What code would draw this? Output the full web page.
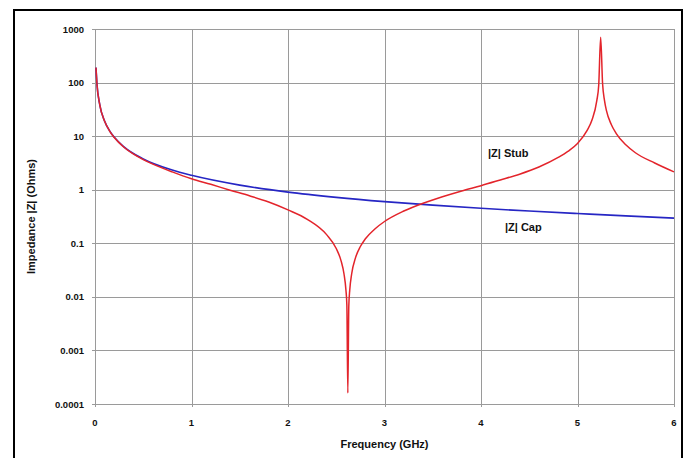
<!DOCTYPE html>
<html>
<head>
<meta charset="utf-8">
<script src="https://cdn.jsdelivr.net/npm/d3@7"></script>
<style>
  body { margin: 0; background: #fff; }
  text { font-family: "Liberation Sans", Arial, sans-serif; font-weight: bold; fill: #111; }
</style>
</head>
<body>
<div id="chart"></div>
<script>
const WIDTH = 688;
const HEIGHT = 458;
const MARGIN = { top: 29, right: 14, bottom: 54, left: 95 };
const RED = "#e3242b";
const BLUE = "#2626c4";
const GRID = "#9a9a9a";

// --------------- Data ---------------
const stubFreq = [0.01, 0.02, 0.05, 0.1, 0.15, 0.2, 0.3, 0.4, 0.5, 0.6, 0.8, 1.0,
  1.2, 1.4, 1.6, 1.8, 2.0, 2.2, 2.4, 2.5, 2.55, 2.58, 2.6, 2.61, 2.62, 2.63, 2.64,
  2.66, 2.7, 2.75, 2.8, 2.9, 3.0, 3.2, 3.4, 3.6, 3.8, 4.0, 4.2, 4.4, 4.6, 4.8, 4.9,
  5.0, 5.1, 5.15, 5.2, 5.22, 5.24, 5.26, 5.28, 5.3, 5.35, 5.4, 5.5, 5.6, 5.8, 6.0];
const stubZ = [190, 95, 38, 19, 12.6, 9.4, 6.2, 4.6, 3.65, 3.0, 2.15, 1.6,
  1.26, 0.98, 0.77, 0.59, 0.42, 0.28, 0.145, 0.08, 0.047, 0.027, 0.0136, 0.007, 0.00016, 0.0067, 0.0135,
  0.027, 0.054, 0.087, 0.12, 0.185, 0.255, 0.4, 0.56, 0.74, 0.95, 1.19, 1.52, 1.95, 2.65, 4.0, 5.2,
  7.3, 12.8, 20, 46, 90, 700, 95, 46, 30, 16.5, 11.3, 6.9, 4.9, 3.15, 2.15];

const capFreq = [0.01, 0.02, 0.05, 0.1, 0.15, 0.2, 0.3, 0.5, 0.8, 1.0, 1.5, 2.0,
  2.5, 3.0, 3.5, 4.0, 4.5, 5.0, 5.5, 6.0];
const capZ = [190, 95, 38, 19, 12.7, 9.5, 6.3, 3.75, 2.33, 1.86, 1.22, 0.9,
  0.72, 0.6, 0.515, 0.45, 0.4, 0.36, 0.325, 0.295];

const xTicks = [0, 1, 2, 3, 4, 5, 6];
const yTicks = [0.0001, 0.001, 0.01, 0.1, 1, 10, 100, 1000];
const yTickLabels = ["0.0001", "0.001", "0.01", "0.1", "1", "10", "100", "1000"];

// --------------- Setup ---------------
const svg = d3
  .select("#chart")
  .append("svg")
  .attr("width", WIDTH)
  .attr("height", HEIGHT);

// outer frame (bottom edge runs off the picture)
svg
  .append("rect")
  .attr("x", 14)
  .attr("y", 10)
  .attr("width", 668)
  .attr("height", 470)
  .attr("fill", "none")
  .attr("stroke", "#000")
  .attr("stroke-width", 2);

const x = d3
  .scaleLinear()
  .domain([0, 6])
  .range([MARGIN.left, WIDTH - MARGIN.right]);

const y = d3
  .scaleLog()
  .domain([0.0001, 1000])
  .range([HEIGHT - MARGIN.bottom, MARGIN.top]);

// --------------- Grid ---------------
const grid = svg.append("g").attr("stroke", GRID).attr("stroke-width", 1);

grid
  .selectAll("line.h")
  .data(yTicks)
  .enter()
  .append("line")
  .attr("x1", x(0) - 3)
  .attr("x2", x(6))
  .attr("y1", d => Math.round(y(d)) + 0.5)
  .attr("y2", d => Math.round(y(d)) + 0.5);

grid
  .selectAll("line.v")
  .data(xTicks)
  .enter()
  .append("line")
  .attr("x1", d => Math.round(x(d)) + 0.5)
  .attr("x2", d => Math.round(x(d)) + 0.5)
  .attr("y1", y(1000))
  .attr("y2", y(0.0001) + 3);

// --------------- Tick labels ---------------
svg
  .append("g")
  .selectAll("text")
  .data(yTicks)
  .enter()
  .append("text")
  .attr("x", x(0) - 11)
  .attr("y", d => y(d) + 3.5)
  .attr("text-anchor", "end")
  .attr("font-size", 9.5)
  .text((d, i) => yTickLabels[i]);

svg
  .append("g")
  .selectAll("text")
  .data(xTicks)
  .enter()
  .append("text")
  .attr("x", d => x(d))
  .attr("y", y(0.0001) + 22)
  .attr("text-anchor", "middle")
  .attr("font-size", 9.5)
  .text(d => d);

// --------------- Axis titles ---------------
svg
  .append("text")
  .attr("x", (x(0) + x(6)) / 2)
  .attr("y", 448)
  .attr("text-anchor", "middle")
  .attr("font-size", 11)
  .text("Frequency (GHz)");

svg
  .append("text")
  .attr("transform", `translate(35,${(y(1000) + y(0.0001)) / 2}) rotate(-90)`)
  .attr("text-anchor", "middle")
  .attr("font-size", 11)
  .text("Impedance |Z| (Ohms)");

// --------------- Lines ---------------
const line = d3
  .line()
  .x(d => x(d[0]))
  .y(d => y(d[1]))
  .curve(d3.curveMonotoneX);

svg
  .append("path")
  .datum(d3.zip(capFreq, capZ))
  .attr("d", line)
  .attr("fill", "none")
  .attr("stroke", BLUE)
  .attr("stroke-width", 1.6);

svg
  .append("path")
  .datum(d3.zip(stubFreq, stubZ))
  .attr("d", line)
  .attr("fill", "none")
  .attr("stroke", RED)
  .attr("stroke-width", 1.5);

// --------------- Labels ---------------
svg
  .append("text")
  .attr("x", 488)
  .attr("y", 157)
  .attr("font-size", 11)
  .text("|Z| Stub");

svg
  .append("text")
  .attr("x", 505)
  .attr("y", 231)
  .attr("font-size", 11)
  .text("|Z| Cap");
</script>
</body>
</html>
